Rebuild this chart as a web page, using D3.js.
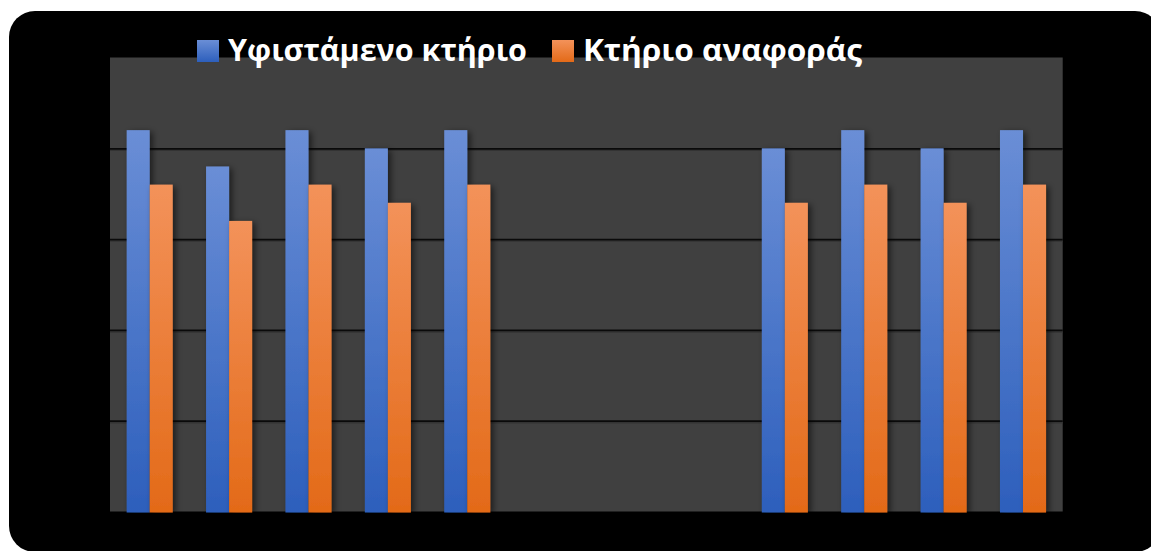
<!DOCTYPE html>
<html>
<head>
<meta charset="utf-8">
<script src="https://cdn.jsdelivr.net/npm/d3@7"></script>
<style>
  html, body { margin: 0; padding: 0; background: #ffffff; }
  svg { display: block; }
</style>
</head>
<body>
<svg id="chart" width="1151" height="551"></svg>
<script>
// Categories (unlabelled on the chart) and the two series
const categories = ["1", "2", "3", "4", "5", "6", "7", "8", "9", "10", "11", "12"];
const seriesNames = ["Υφιστάμενο κτήριο", "Κτήριο αναφοράς"];
const existingBuilding = [4.2, 3.8, 4.2, 4.0, 4.2, 0, 0, 0, 4.0, 4.2, 4.0, 4.2];
const referenceBuilding = [3.6, 3.2, 3.6, 3.4, 3.6, 0, 0, 0, 3.4, 3.6, 3.4, 3.6];
const gridTicks = [1, 2, 3, 4];

const seriesValues = [existingBuilding, referenceBuilding];
const gradTop = ["#6A8ED6", "#F3925A"];
const gradBottom = ["#2D5FBC", "#E36A18"];

const svg = d3.select("#chart");
const plot = { left: 110, right: 1062.7, top: 57.5, bottom: 511.5 };

const defs = svg.append("defs");
seriesNames.forEach((_, i) => {
  const g = defs.append("linearGradient")
    .attr("id", "grad" + i).attr("x1", 0).attr("y1", 0).attr("x2", 0).attr("y2", 1);
  g.append("stop").attr("offset", "0%").attr("stop-color", gradTop[i]);
  g.append("stop").attr("offset", "100%").attr("stop-color", gradBottom[i]);
});
const shadow = defs.append("filter").attr("id", "barShadow")
  .attr("x", "-50%").attr("y", "-10%").attr("width", "200%").attr("height", "130%");
shadow.append("feDropShadow").attr("dx", 3).attr("dy", 2)
  .attr("stdDeviation", 3).attr("flood-color", "#000").attr("flood-opacity", 0.55);

// Black rounded panel
svg.append("rect")
  .attr("x", 9).attr("y", 11).attr("width", 1152).attr("height", 541)
  .attr("rx", 26).attr("ry", 26).attr("fill", "#000000");

// Scales
const x0 = d3.scaleBand().domain(categories)
  .range([plot.left, plot.right]).paddingInner(0.42).paddingOuter(0.21);
const x1 = d3.scaleBand().domain(seriesNames.map((_, i) => i))
  .range([0, x0.bandwidth()]).padding(0);
const y = d3.scaleLinear().domain([0, 5]).range([plot.bottom, plot.top]);

// Plot area
svg.append("rect")
  .attr("x", plot.left).attr("y", y(5))
  .attr("width", plot.right - plot.left).attr("height", y(0) - y(5))
  .attr("fill", "#404040");

// Gridlines: a soft darker line under each black rule
const gridShade = svg.append("g")
  .attr("transform", `translate(${plot.left},1.5)`)
  .call(d3.axisLeft(y).tickValues(gridTicks).tickSize(-(plot.right - plot.left)).tickFormat(""));
gridShade.select(".domain").remove();
gridShade.selectAll(".tick line").attr("stroke", "#333333").attr("stroke-width", 1.5);

const grid = svg.append("g")
  .attr("transform", `translate(${plot.left},0)`)
  .call(d3.axisLeft(y).tickValues(gridTicks).tickSize(-(plot.right - plot.left)).tickFormat(""));
grid.select(".domain").remove();
grid.selectAll(".tick line").attr("stroke", "#0a0a0a").attr("stroke-width", 1.75);

// Bars
const groups = svg.append("g").selectAll("g")
  .data(categories)
  .join("g")
  .attr("transform", d => `translate(${x0(d)},0)`);

groups.selectAll("rect")
  .data((d, ci) => seriesValues.map((vals, si) => ({ si, v: vals[ci] })))
  .join("rect")
  .filter(d => d.v > 0)
  .attr("x", d => x1(d.si))
  .attr("y", d => y(d.v))
  .attr("width", x1.bandwidth())
  .attr("height", d => y(0) - y(d.v) + 1)
  .attr("fill", d => `url(#grad${d.si})`)
  .attr("filter", "url(#barShadow)");

// Legend
const legendItems = [
  { sx: 197, tx: 228, len: 299 },
  { sx: 552, tx: 583, len: 279 }
];
const legend = svg.append("g");
seriesNames.forEach((name, i) => {
  const it = legendItems[i];
  legend.append("rect")
    .attr("x", it.sx).attr("y", 40).attr("width", 22).attr("height", 22)
    .attr("fill", `url(#grad${i})`);
  legend.append("text")
    .attr("x", it.tx).attr("y", 60.5)
    .attr("textLength", it.len).attr("lengthAdjust", "spacingAndGlyphs")
    .attr("font-family", "'Open Sans', 'Noto Sans', sans-serif")
    .attr("font-weight", 700).attr("font-size", 30)
    .attr("fill", "#ffffff")
    .text(name);
});
</script>
</body>
</html>
